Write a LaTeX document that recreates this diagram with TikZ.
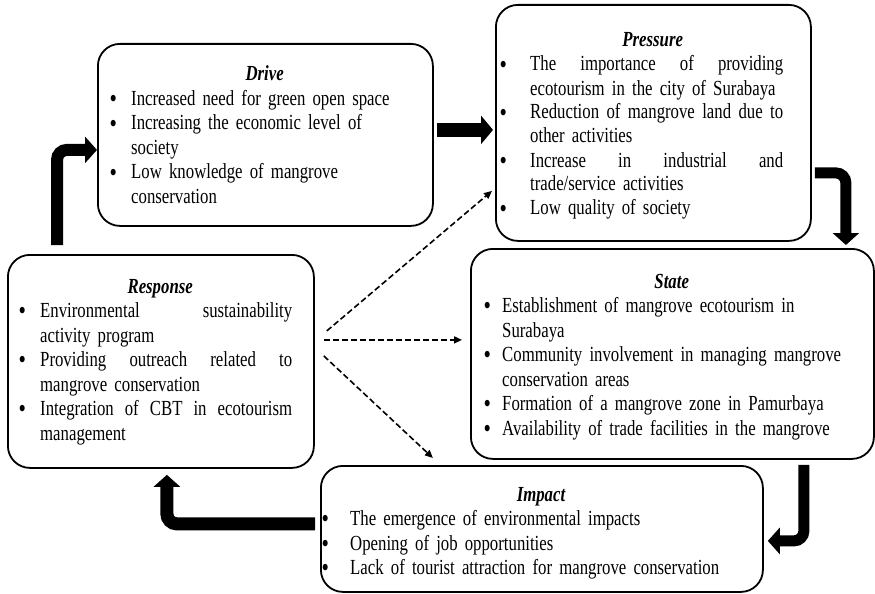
\documentclass[tikz,border=0pt]{standalone}
\usepackage{fontspec}
\setmainfont{Liberation Serif}[FakeStretch=0.78]
\usetikzlibrary{arrows.meta,calc}
\newcommand\ttl[1]{\makebox[\linewidth]{\textbf{\textit{#1}}}}
\newcommand\bdot{\raisebox{-2.2pt}{\fontsize{27}{24}\selectfont\textbullet}}
\newcommand\bli[3]{\hspace*{#1pt}\makebox[0pt]{\bdot}\hspace*{\dimexpr#2pt-#1pt\relax}#3}
\newcommand\cli[2]{\hspace*{#1pt}#2}
\newcommand\jus[2]{\makebox[#1pt][s]{\spaceskip=.25em plus 1fil\relax #2}}
\begin{document}
\begin{tikzpicture}[x=1pt,y=-1pt,
  box/.style={draw, line width=1.8pt, rounded corners=22pt, anchor=north west, inner sep=0pt},
  txt/.style={anchor=base west, inner sep=0pt, align=left, font=\fontsize{21.5}{24.5}\selectfont},
  bigarrow/.style={line width=12pt, -{Triangle[length=12pt,width=26pt]}, rounded corners=10pt},
  dasharrow/.style={line width=1.6pt, dash pattern=on 6pt off 3pt, -{Triangle[length=8pt,width=7pt]}}]
\useasboundingbox (0,0) rectangle (875,594);

% boxes
\node[box, minimum width=335pt, minimum height=182pt] (drive) at (97,43) {};
\node[box, minimum width=315pt, minimum height=236pt] (press) at (495,4) {};
\node[box, minimum width=306pt, minimum height=213pt] (resp) at (7,254) {};
\node[box, minimum width=403pt, minimum height=210pt] (state) at (470,248) {};
\node[box, minimum width=442pt, minimum height=126pt] (imp) at (320,465) {};

% texts
\node[txt, text width=335pt] (drivetxt) at (97,81) {%
\ttl{Drive}\\
\bli{16}{34}{Increased need for green open space}\\
\bli{16}{34}{Increasing the economic level of}\\
\cli{34}{society}\\
\bli{16}{34}{Low knowledge of mangrove}\\
\cli{34}{conservation}};

\node[txt, text width=315pt, font=\fontsize{21.5}{24}\selectfont] (presstxt) at (495,47) {%
\ttl{Pressure}\\
\bli{8}{35}{\jus{253}{The importance of providing}}\\
\cli{35}{ecotourism in the city of Surabaya}\\
\bli{8}{35}{\jus{253}{Reduction of mangrove land due to}}\\
\cli{35}{other activities}\\
\bli{8}{35}{\jus{253}{Increase in industrial and}}\\
\cli{35}{trade/service activities}\\
\bli{8}{35}{Low quality of society}};

\node[txt, text width=306pt] (resptxt) at (7,293) {%
\ttl{Response}\\
\bli{15}{33}{\jus{252}{Environmental sustainability}}\\
\cli{33}{activity program}\\
\bli{15}{33}{\jus{252}{Providing outreach related to}}\\
\cli{33}{mangrove conservation}\\
\bli{15}{33}{\jus{252}{Integration of CBT in ecotourism}}\\
\cli{33}{management}};

\node[txt, text width=403pt] (statetxt) at (470,288) {%
\ttl{State}\\
\bli{17}{32}{Establishment of mangrove ecotourism in}\\
\cli{32}{Surabaya}\\
\bli{17}{32}{Community involvement in managing mangrove}\\
\cli{32}{conservation areas}\\
\bli{17}{32}{Formation of a mangrove zone in Pamurbaya}\\
\bli{17}{32}{Availability of trade facilities in the mangrove}};

\node[txt, text width=442pt] (imptxt) at (320,501) {%
\ttl{Impact}\\
\bli{5}{30}{The emergence of environmental impacts}\\
\bli{5}{30}{Opening of job opportunities}\\
\bli{5}{30}{Lack of tourist attraction for mangrove conservation}};

% thick cycle arrows
\draw[bigarrow] ($(resp.north west)+(50,-9)$) |- ($(drive.west)+(0,15)$);
\draw[bigarrow, line width=14pt, -{Triangle[length=12pt,width=28pt]}] ($(drive.east)+(3,-5)$) -- ($(press.west)+(-2,7)$);
\draw[bigarrow, line width=11pt] ($(press.east)+(3,50)$) -| ($(state.north)+(173.5,-3)$);
\draw[bigarrow, line width=11pt] ($(state.south)+(131.5,5)$) |- ($(imp.east)+(4,12)$);
\draw[bigarrow, line width=13pt] ($(imp.west)+(-5,-5)$) -| ($(resp.south)+(6,6)$);

% dashed arrows
\draw[dasharrow] ($(resp.east)+(12,-30.5)$) -- ($(press.west)+(-3,68)$);
\draw[dasharrow] ($(resp.east)+(9,-21.5)$) -- ($(state.west)+(-8,-14)$);
\draw[dasharrow] ($(resp.east)+(9,-5.5)$) -- ($(imp.north)+(-109,-7)$);
\end{tikzpicture}
\end{document}
